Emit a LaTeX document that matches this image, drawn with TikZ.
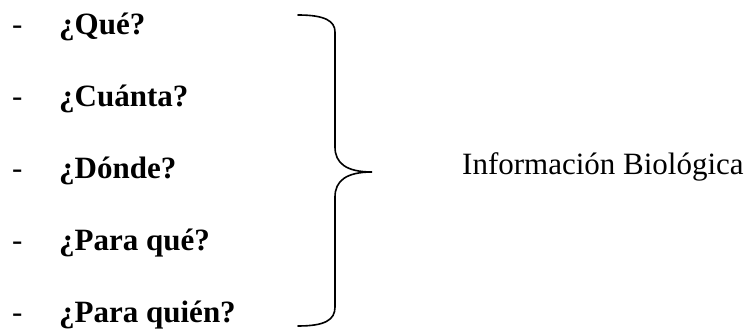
\documentclass[tikz,border=0pt]{standalone}
\usepackage{fontspec}
\setmainfont{Liberation Serif}
\usetikzlibrary{positioning}

\tikzset{
  item/.style={anchor=base west, inner sep=0pt, font=\fontsize{31}{37}\selectfont\bfseries},
  bullet/.style={anchor=base west, inner sep=0pt, font=\fontsize{31}{37}\selectfont},
  brace/.style={line width=1.6pt, line cap=round}
}

\begin{document}
\begin{tikzpicture}[x=1pt, y=1pt]
  \useasboundingbox (0,0) rectangle (755,329);
  \foreach \q [count=\i] in {¿Qué?, ¿Cuánta?, ¿Dónde?, ¿Para qué?, ¿Para quién?} {
    \node[bullet] (d\i) at (12,{294-(\i-1)*72}) {-};
    \node[item] (q\i) at (59,{294-(\i-1)*72}) {\q};
  }
  \draw[brace] (298,314) .. controls (325,314) and (335,308) .. (335,297)
    -- (335,182) .. controls (335,166) and (346,157) .. (372,157)
    coordinate (tip)
    .. controls (346,157) and (335,148) .. (335,132)
    -- (335,22) .. controls (335,9) and (325,3) .. (298,3);
  \node[anchor=base west, inner sep=0pt, font=\fontsize{31}{37}\selectfont]
    (info) at (462,154) {Información Biológica};
\end{tikzpicture}
\end{document}
